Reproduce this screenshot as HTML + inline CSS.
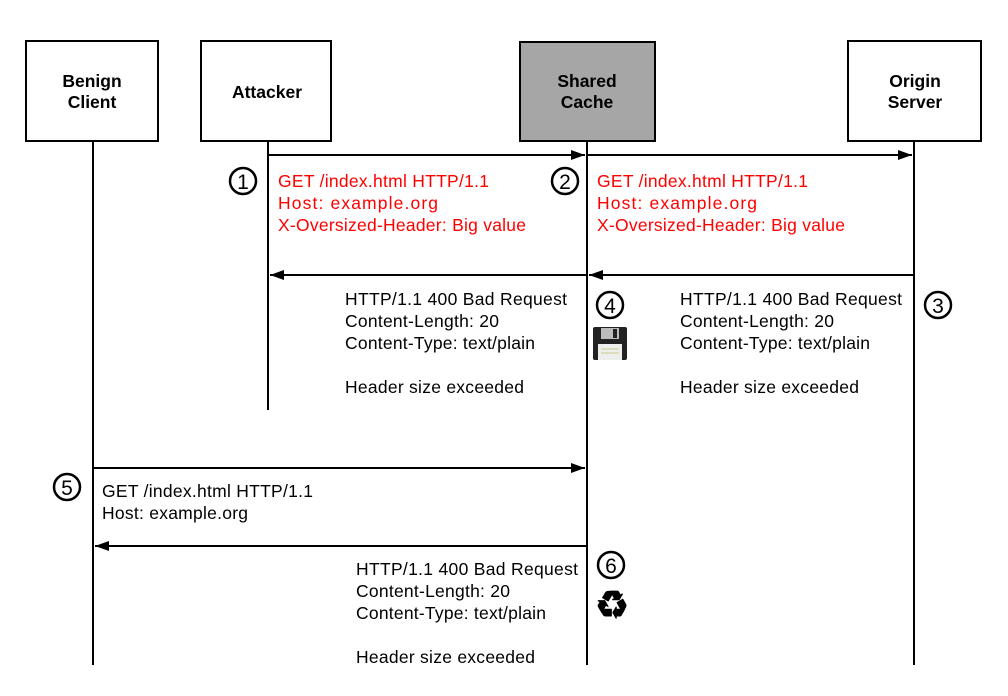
<!DOCTYPE html>
<html><head><meta charset="utf-8"><style>
html,body{margin:0;padding:0;background:#fff}
svg{display:block}
text{font-family:"Liberation Sans",Arial,sans-serif}
</style></head><body>
<svg width="1008" height="696" viewBox="0 0 1008 696" xmlns="http://www.w3.org/2000/svg">
<defs>
<marker id="a" markerWidth="14" markerHeight="10" refX="14" refY="5" orient="auto" markerUnits="userSpaceOnUse">
<path d="M0,0 L14,5 L0,10 z" fill="#000"/></marker>
</defs>
<g stroke="#000" stroke-width="2" fill="none">
<line x1="93" y1="141" x2="93" y2="665"/>
<line x1="268" y1="141" x2="268" y2="410"/>
<line x1="587" y1="141" x2="587" y2="665"/>
<line x1="914" y1="141" x2="914" y2="665"/>
<rect x="26" y="41" width="132" height="100" fill="#fff"/>
<rect x="201" y="41" width="130" height="100" fill="#fff"/>
<rect x="520" y="42" width="135" height="99" fill="#a6a6a6"/>
<rect x="848" y="41" width="133" height="100" fill="#fff"/>
<line x1="268" y1="155" x2="585" y2="155" marker-end="url(#a)"/>
<line x1="587" y1="155" x2="912" y2="155" marker-end="url(#a)"/>
<line x1="914" y1="275" x2="589" y2="275" marker-end="url(#a)"/>
<line x1="587" y1="275" x2="270" y2="275" marker-end="url(#a)"/>
<line x1="93" y1="468" x2="585" y2="468" marker-end="url(#a)"/>
<line x1="587" y1="546" x2="95" y2="546" marker-end="url(#a)"/>
</g>
<g stroke="#000" stroke-width="2.5" fill="none">
<circle cx="243" cy="181" r="13"/>
<circle cx="565" cy="181" r="13"/>
<circle cx="938" cy="305" r="13"/>
<circle cx="610" cy="305" r="13"/>
<circle cx="67" cy="487" r="13"/>
<circle cx="611" cy="565" r="13"/>
</g>
<g font-size="17.5" font-weight="bold" text-anchor="middle">
<text x="92" y="87">Benign</text><text x="92" y="108">Client</text>
<text x="267" y="98">Attacker</text>
<text x="587" y="87">Shared</text><text x="587" y="108">Cache</text>
<text x="915" y="87">Origin</text><text x="915" y="108">Server</text>
</g>
<g font-size="21" text-anchor="middle">
<text x="243" y="189">1</text><text x="565" y="189">2</text>
<text x="938" y="313">3</text><text x="610" y="313">4</text>
<text x="67" y="495">5</text><text x="611" y="573">6</text>
</g>
<g font-size="17.5" fill="#ff0000" lengthAdjust="spacingAndGlyphs">
<text x="278" y="187" textLength="211">GET /index.html HTTP/1.1</text>
<text x="278" y="209" textLength="160">Host: example.org</text>
<text x="278" y="231" textLength="248">X-Oversized-Header: Big value</text>
<text x="597" y="187" textLength="211">GET /index.html HTTP/1.1</text>
<text x="597" y="209" textLength="160">Host: example.org</text>
<text x="597" y="231" textLength="248">X-Oversized-Header: Big value</text>
</g>
<g font-size="17.5" fill="#000">
<text x="345" y="305" textLength="222">HTTP/1.1 400 Bad Request</text>
<text x="345" y="327" textLength="154">Content-Length: 20</text>
<text x="345" y="349" textLength="190">Content-Type: text/plain</text>
<text x="345" y="393" textLength="179">Header size exceeded</text>
<text x="680" y="305" textLength="222">HTTP/1.1 400 Bad Request</text>
<text x="680" y="327" textLength="154">Content-Length: 20</text>
<text x="680" y="349" textLength="190">Content-Type: text/plain</text>
<text x="680" y="393" textLength="179">Header size exceeded</text>
<text x="102" y="497" textLength="211">GET /index.html HTTP/1.1</text>
<text x="102" y="519" textLength="146">Host: example.org</text>
<text x="356" y="575" textLength="222">HTTP/1.1 400 Bad Request</text>
<text x="356" y="597" textLength="154">Content-Length: 20</text>
<text x="356" y="619" textLength="190">Content-Type: text/plain</text>
<text x="356" y="663" textLength="179">Header size exceeded</text>
</g>
<g>
<rect x="593" y="327" width="34" height="33" rx="2" fill="#222"/>
<rect x="601" y="328" width="18" height="11" fill="#bbb"/>
<rect x="613" y="329" width="4" height="9" fill="#222"/>
<rect x="598" y="344" width="24" height="16" fill="#eee"/>
<line x1="601" y1="349" x2="619" y2="349" stroke="#cc8" stroke-width="1"/>
<line x1="601" y1="353" x2="619" y2="353" stroke="#cc8" stroke-width="1"/>
</g>
<text x="612" y="618" font-size="38" text-anchor="middle" font-family="DejaVu Sans,sans-serif" font-weight="bold">♻</text>
</svg>
</body></html>
